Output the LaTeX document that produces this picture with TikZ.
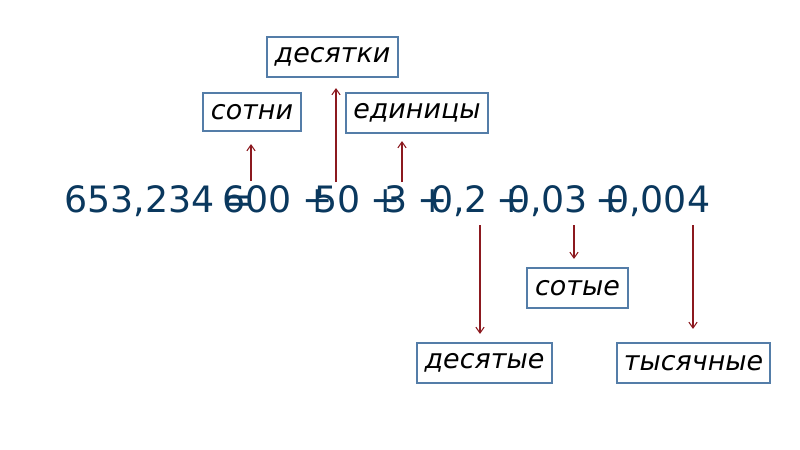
\documentclass[tikz,border=0pt]{standalone}
\usepackage{fontspec}
\setmainfont{DejaVu Sans}
\usetikzlibrary{arrows.meta}
\definecolor{NumClr}{rgb}{0.04,0.22,0.37}
\definecolor{BoxClr}{rgb}{0.33,0.49,0.66}
\definecolor{ArrClr}{rgb}{0.55,0.1,0.12}

\begin{document}
\begin{tikzpicture}[x=0.03cm,y=-0.03cm,
  num/.style={inner sep=0pt,text=NumClr,font=\fontsize{31}{31}\selectfont},
  lbl/.style={draw=BoxClr,line width=1.8pt,inner sep=0pt,minimum height=1.2cm,font=\fontsize{23}{23}\selectfont\itshape},
  arr/.style={ArrClr,line width=0.9pt,-{Straight Barb[length=5pt,width=7pt]}}]
\useasboundingbox (0,0) rectangle (800,450);

% the sum, digits and signs set one by one
\node[num,anchor=base west] (n653234) at (64,213) {653,234};
\node[num,anchor=base] (eq) at (238.5,213) {=};
\node[num,anchor=base west] (n600) at (222,213) {600};
\node[num,anchor=base] (p1) at (318,213) {+};
\node[num,anchor=base west] (n50) at (314,213) {50};
\node[num,anchor=base] (p2) at (386,213) {+};
\node[num,anchor=base west] (n3) at (384,213) {3};
\node[num,anchor=base] (p3) at (432.5,213) {+};
\node[num,anchor=base west] (n02) at (430,213) {0,2};
\node[num,anchor=base] (p4) at (512,213) {+};
\node[num,anchor=base west] (n003) at (507,213) {0,03};
\node[num,anchor=base] (p5) at (611,213) {+};
\node[num,anchor=base west] (n0004) at (606,213) {0,004};

% the names of the places
\node[lbl,minimum width=2.94cm,minimum height=1.14cm] (sotni) at (252,112) {сотни};
\node[lbl,minimum width=3.93cm] (desyatki) at (332.5,57) {десятки};
\node[lbl,minimum width=4.26cm] (edinicy) at (417,113) {единицы};
\node[lbl,minimum width=4.05cm] (desyatye) at (484.5,363) {десятые};
\node[lbl,minimum width=3.03cm] (sotye) at (577.5,288) {сотые};
\node[lbl,minimum width=4.59cm] (tysyachnye) at (693.5,363) {тысячные};

\coordinate (t600) at (251,181);
\coordinate (t50) at (336,182);
\coordinate (t3) at (402,182);
\coordinate (t02) at (480,225);
\coordinate (t003) at (574,225);
\coordinate (t0004) at (693,225);

\draw[arr,shorten >=0.36cm] (t600) -- (t600 |- sotni.south);
\draw[arr,shorten >=0.3cm] (t50) -- (t50 |- desyatki.south);
\draw[arr,shorten >=0.21cm] (t3) -- (t3 |- edinicy.south);
\draw[arr,shorten >=0.24cm] (t02) -- (t02 |- desyatye.north);
\draw[arr,shorten >=0.24cm] (t003) -- (t003 |- sotye.north);
\draw[arr,shorten >=0.39cm] (t0004) -- (t0004 |- tysyachnye.north);

\end{tikzpicture}
\end{document}
